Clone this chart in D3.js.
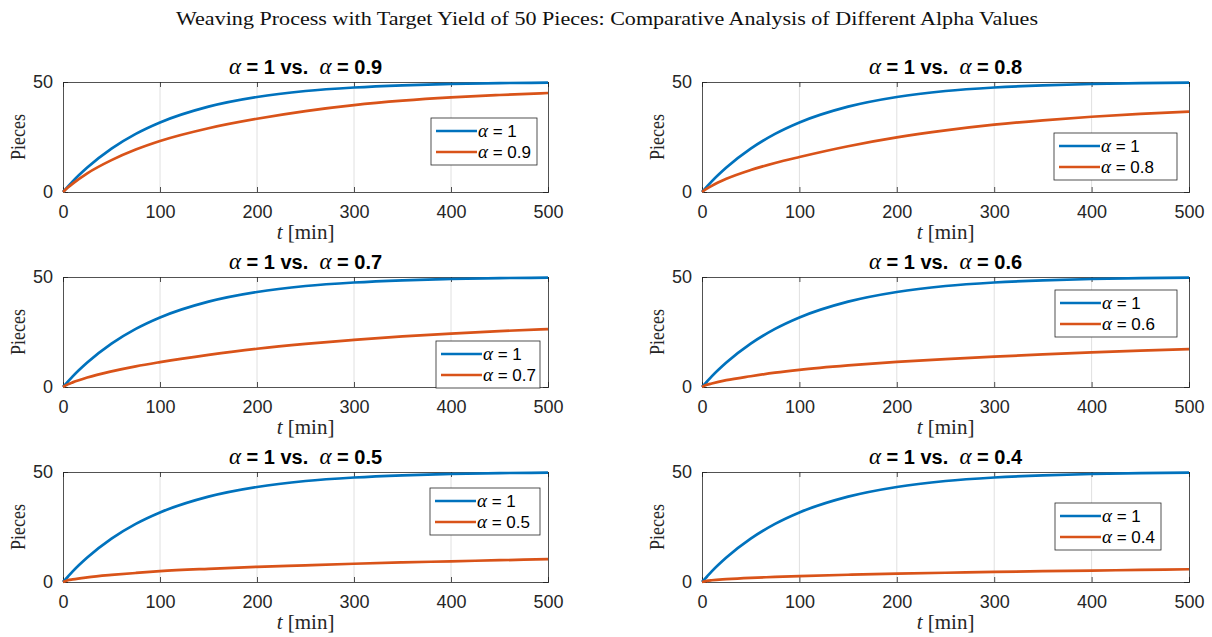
<!DOCTYPE html>
<html>
<head>
<meta charset="utf-8">
<script src="https://cdn.jsdelivr.net/npm/d3@7/dist/d3.min.js"></script>
<style>
  html, body { margin: 0; padding: 0; background: #ffffff; }
  svg { display: block; }
</style>
</head>
<body>
<svg id="chart" width="1212" height="637"></svg>
<script>
// ---------------- DATA ----------------
const chartTitle = "Weaving Process with Target Yield of 50 Pieces: Comparative Analysis of Different Alpha Values";
const timeMin = [0, 5, 10, 25, 50, 75, 100, 150, 200, 250, 300, 350, 400, 450, 500];
const piecesAlpha1   = [0, 2.4, 4.8, 11.1, 19.7, 26.4, 31.6, 38.8, 43.2, 45.9, 47.5, 48.5, 49.1, 49.5, 49.7];
const piecesAlpha09  = [0, 2.0, 3.8, 8.5, 14.5, 19.3, 23.2, 29.0, 33.3, 36.8, 39.5, 41.5, 43.0, 44.1, 45.0];
const piecesAlpha08  = [0, 1.5, 2.8, 6.0, 10.0, 13.2, 15.9, 20.8, 24.8, 28.0, 30.6, 32.6, 34.2, 35.5, 36.5];
const piecesAlpha07  = [0, 1.2, 2.1, 4.3, 7.1, 9.4, 11.3, 14.6, 17.4, 19.6, 21.4, 23.0, 24.3, 25.4, 26.3];
const piecesAlpha06  = [0, 1.0, 1.6, 3.1, 4.9, 6.5, 7.8, 9.8, 11.4, 12.7, 13.8, 14.8, 15.7, 16.5, 17.2];
const piecesAlpha05  = [0, 0.8, 1.2, 2.1, 3.2, 4.1, 4.9, 6.0, 6.9, 7.6, 8.3, 8.9, 9.4, 9.9, 10.4];
const piecesAlpha04  = [0, 0.5, 0.8, 1.3, 1.9, 2.3, 2.7, 3.3, 3.8, 4.2, 4.6, 4.9, 5.2, 5.5, 5.8];
const alphaValues = ["0.9", "0.8", "0.7", "0.6", "0.5", "0.4"];
const comparedSeries = [piecesAlpha09, piecesAlpha08, piecesAlpha07, piecesAlpha06, piecesAlpha05, piecesAlpha04];
const xTickValues = [0, 100, 200, 300, 400, 500];
const yTickValues = [0, 50];
const xDomain = [0, 500];
const yDomain = [0, 50];

// ---------------- LAYOUT / STYLE ----------------
const colBlue = "#0072BD";
const colOrange = "#D95319";
const axisColor = "#262626";
const gridColor = "#e0e0e0";
const colLeft = [63, 702];
const colWidth = [485, 487];
const rowTop = [82, 277, 472];
const plotH = 110;
// legend boxes (left, top, width) in page coordinates for each panel
const legendBoxes = [
  [431, 118, 106],
  [1054, 133, 123],
  [436, 341, 104],
  [1055, 290, 122],
  [430, 488, 110],
  [1055, 503, 106]
];

const svg = d3.select("#chart");
const serif = "'Liberation Serif', 'DejaVu Serif', serif";
const sans = "'Liberation Sans', Arial, Helvetica, sans-serif";

// main title
svg.append("text")
  .attr("x", 607).attr("y", 25)
  .attr("text-anchor", "middle")
  .attr("font-family", serif)
  .attr("font-size", 19)
  .attr("fill", "#111")
  .attr("textLength", 862)
  .attr("lengthAdjust", "spacingAndGlyphs")
  .text(chartTitle);

alphaValues.forEach((aVal, i) => {
  const col = i % 2, row = Math.floor(i / 2);
  const left = colLeft[col], top = rowTop[row], w = colWidth[col], h = plotH;
  const x = d3.scaleLinear().domain(xDomain).range([0, w]);
  const y = d3.scaleLinear().domain(yDomain).range([h, 0]);
  const g = svg.append("g").attr("transform", `translate(${left},${top})`);

  g.append("rect").attr("width", w).attr("height", h).attr("fill", "#fff");

  // vertical grid
  g.selectAll("line.grid").data(xTickValues.filter(v => v > xDomain[0] && v < xDomain[1]))
    .enter().append("line").attr("class", "grid")
    .attr("x1", d => x(d)).attr("x2", d => x(d))
    .attr("y1", 0).attr("y2", h)
    .attr("stroke", gridColor).attr("stroke-width", 1);

  // axes with inward ticks (box on)
  const xAxis = g.append("g").attr("transform", `translate(0,${h})`)
    .call(d3.axisBottom(x).tickValues(xTickValues).tickSize(-5).tickPadding(13).tickFormat(d3.format("d")));
  const xAxisTop = g.append("g")
    .call(d3.axisTop(x).tickValues(xTickValues).tickSize(-5).tickFormat(""));
  const yAxis = g.append("g")
    .call(d3.axisLeft(y).tickValues(yTickValues).tickSize(-5).tickPadding(10).tickFormat(d3.format("d")));
  const yAxisR = g.append("g").attr("transform", `translate(${w},0)`)
    .call(d3.axisRight(y).tickValues(yTickValues).tickSize(-5).tickFormat(""));
  [xAxis, xAxisTop, yAxis, yAxisR].forEach(a => {
    a.select(".domain").attr("stroke", axisColor).attr("stroke-width", 0.8);
    a.selectAll(".tick line").attr("stroke", axisColor).attr("stroke-width", 0.8);
    a.selectAll(".tick text").attr("font-family", sans).attr("font-size", 18).attr("fill", "#262626");
  });

  // lines
  const line = d3.line()
    .x((d, k) => x(timeMin[k]))
    .y(d => y(d))
    .curve(d3.curveMonotoneX);
  g.append("path").datum(piecesAlpha1).attr("d", line)
    .attr("fill", "none").attr("stroke", colBlue).attr("stroke-width", 2.7);
  g.append("path").datum(comparedSeries[i]).attr("d", line)
    .attr("fill", "none").attr("stroke", colOrange).attr("stroke-width", 2.7);

  // panel title
  const t = svg.append("text")
    .attr("x", left + w / 2).attr("y", top - 8)
    .attr("text-anchor", "middle").attr("fill", "#000");
  t.append("tspan").attr("font-family", serif).attr("font-style", "italic").attr("font-size", 23).text("α");
  t.append("tspan").attr("font-family", sans).attr("font-weight", "bold").attr("font-size", 20)
    .attr("xml:space", "preserve").text(" = 1 vs.  ");
  t.append("tspan").attr("font-family", serif).attr("font-style", "italic").attr("font-size", 23).text("α");
  t.append("tspan").attr("font-family", sans).attr("font-weight", "bold").attr("font-size", 20)
    .attr("xml:space", "preserve").text(" = " + aVal);

  // axis labels
  svg.append("text")
    .attr("transform", `translate(${left - 38},${top + h / 2}) rotate(-90)`)
    .attr("text-anchor", "middle")
    .attr("font-family", serif).attr("font-size", 22).attr("fill", "#262626")
    .attr("textLength", 46).attr("lengthAdjust", "spacingAndGlyphs")
    .text("Pieces");
  const xl = svg.append("text")
    .attr("x", left + w / 2).attr("y", top + h + 47)
    .attr("text-anchor", "middle")
    .attr("font-family", serif).attr("font-size", 21).attr("fill", "#262626");
  xl.append("tspan").attr("font-style", "italic").text("t");
  xl.append("tspan").attr("xml:space", "preserve").text(" [min]");

  // legend
  const [lx, ly, lw] = legendBoxes[i];
  const lg = svg.append("g").attr("transform", `translate(${lx},${ly})`);
  lg.append("rect").attr("width", lw).attr("height", 47)
    .attr("fill", "#fff").attr("stroke", axisColor).attr("stroke-width", 0.8);
  const entries = [[colBlue, "1"], [colOrange, aVal]];
  entries.forEach(([c, v], k) => {
    const yy = 13 + k * 21;
    lg.append("line").attr("x1", 5).attr("x2", 46).attr("y1", yy).attr("y2", yy)
      .attr("stroke", c).attr("stroke-width", 2.7);
    const tx = lg.append("text").attr("x", 47).attr("y", yy + 6).attr("fill", "#000");
    tx.append("tspan").attr("font-family", serif).attr("font-style", "italic")
      .attr("font-size", 19).text("α");
    tx.append("tspan").attr("font-family", sans).attr("font-size", 17)
      .attr("xml:space", "preserve").text(" = " + v);
  });
});
</script>
</body>
</html>
